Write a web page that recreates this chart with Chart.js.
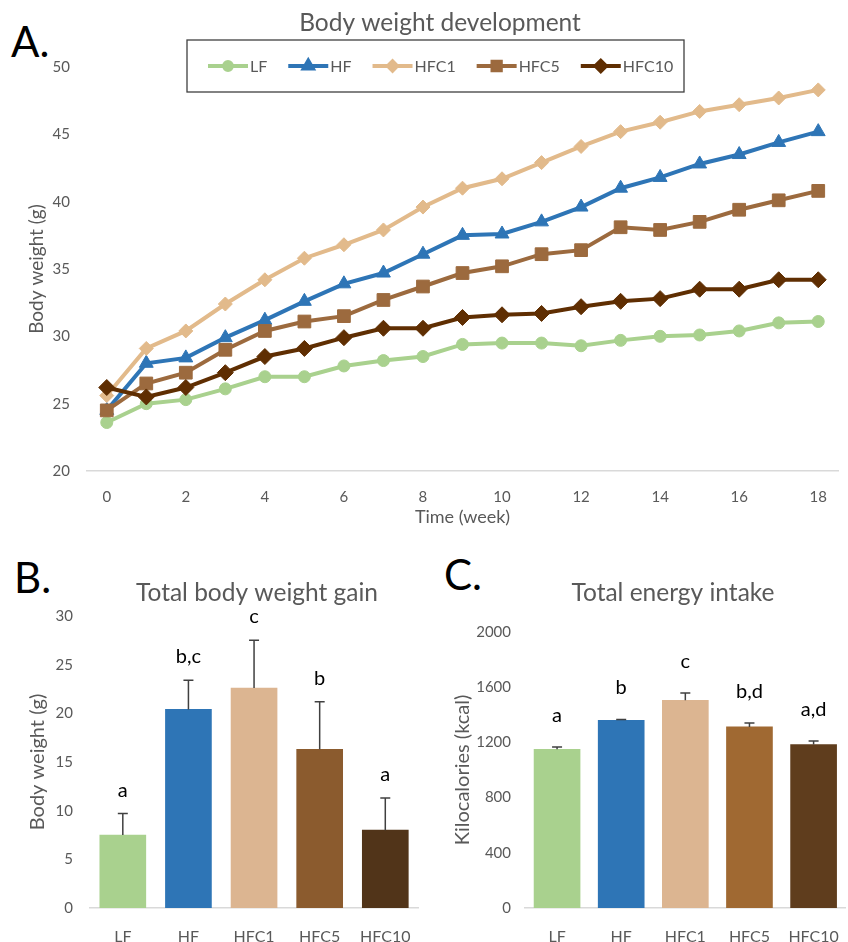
<!DOCTYPE html>
<html>
<head>
<meta charset="utf-8">
<script src="https://cdn.jsdelivr.net/npm/chart.js@4"></script>
<style>
  body { margin: 0; background: #fff; width: 848px; height: 942px; overflow: hidden; position: relative; font-family: Lato, sans-serif; }
  .panel { position: absolute; font-size: 42px; color: #000; line-height: 1; }
  canvas { position: absolute; }
  #wrapC { position: absolute; left: 430px; top: 555px; width: 418px; height: 387px; overflow: hidden; }
</style>
</head>
<body>
<div class="panel" style="left:11px;top:20px;">A.</div>
<div class="panel" style="left:14px;top:556px;">B.</div>
<div class="panel" style="left:444px;top:553px;">C.</div>
<canvas id="chartA" width="848" height="540" style="left:0;top:0;"></canvas>
<canvas id="chartB" width="430" height="387" style="left:0;top:555px;"></canvas>
<div id="wrapC"><canvas id="chartC" width="428" height="387" style="left:0;top:0;"></canvas></div>
<script>
// datos
var weeks = [0, 1, 2, 3, 4, 5, 6, 7, 8, 9, 10, 11, 12, 13, 14, 15, 16, 17, 18];
var pesoLF    = [23.6, 25.0, 25.3, 26.1, 27.0, 27.0, 27.8, 28.2, 28.5, 29.4, 29.5, 29.5, 29.3, 29.7, 30.0, 30.1, 30.4, 31.0, 31.1];
var pesoHF    = [24.5, 28.0, 28.4, 29.9, 31.2, 32.6, 33.9, 34.7, 36.1, 37.5, 37.6, 38.5, 39.6, 41.0, 41.8, 42.8, 43.5, 44.4, 45.2];
var pesoHFC1  = [25.6, 29.1, 30.4, 32.4, 34.2, 35.8, 36.8, 37.9, 39.6, 41.0, 41.7, 42.9, 44.1, 45.2, 45.9, 46.7, 47.2, 47.7, 48.3];
var pesoHFC5  = [24.5, 26.5, 27.3, 29.0, 30.4, 31.1, 31.5, 32.7, 33.7, 34.7, 35.2, 36.1, 36.4, 38.1, 37.9, 38.5, 39.4, 40.1, 40.8];
var pesoHFC10 = [26.2, 25.5, 26.2, 27.3, 28.5, 29.1, 29.9, 30.6, 30.6, 31.4, 31.6, 31.7, 32.2, 32.6, 32.8, 33.5, 33.5, 34.2, 34.2];

var grupos = ['LF', 'HF', 'HFC1', 'HFC5', 'HFC10'];
var gananciaMedia = [7.5, 20.4, 22.6, 16.3, 8.0];
var gananciaError = [2.2, 3.0, 4.9, 4.9, 3.3];
var gananciaLetras = ['a', 'b,c', 'c', 'b', 'a'];
var energiaMedia = [1150, 1360, 1505, 1312, 1185];
var energiaError = [17, 6, 53, 29, 26];
var energiaLetras = ['a', 'b', 'c', 'b,d', 'a,d'];

var gris = '#595959';
var fuente = 'Lato, sans-serif';
var coloresLinea = ['#a9d18e', '#2e75b6', '#e2ba8b', '#9c6a3e', '#5f2e02'];
var coloresB = ['#a9d18e', '#2e75b6', '#dcb591', '#8b5b2e', '#513419'];
var coloresC = ['#a9d18e', '#2e75b6', '#dcb591', '#a06932', '#5f3d1d'];

Chart.defaults.font.family = fuente;
Chart.defaults.color = gris;

// titulo de cada panel
Chart.register({
  id: 'panelTitle',
  afterDraw: function(chart, args, opts) {
    if (!opts.text) return;
    var ctx = chart.ctx;
    ctx.save();
    ctx.font = opts.size + 'px ' + fuente;
    ctx.fillStyle = gris;
    ctx.textAlign = 'center';
    ctx.textBaseline = 'middle';
    ctx.fillText(opts.text, opts.x, opts.y);
    ctx.restore();
  }
});

// barras de error y letras
Chart.register({
  id: 'errorBars',
  afterDatasetsDraw: function(chart, args, opts) {
    if (!opts.errors) return;
    var ctx = chart.ctx;
    var meta = chart.getDatasetMeta(0);
    var y = chart.scales.y;
    var vals = chart.data.datasets[0].data;
    ctx.save();
    for (var i = 0; i < vals.length; i++) {
      var x = meta.data[i].x;
      var y0 = y.getPixelForValue(vals[i]);
      var y1 = y.getPixelForValue(vals[i] + opts.errors[i]);
      ctx.strokeStyle = '#404040';
      ctx.lineWidth = 1.5;
      ctx.beginPath();
      ctx.moveTo(x, y0);
      ctx.lineTo(x, y1);
      ctx.moveTo(x - 5, y1);
      ctx.lineTo(x + 5, y1);
      ctx.stroke();
      ctx.fillStyle = '#000';
      ctx.font = '20px ' + fuente;
      ctx.textAlign = 'center';
      ctx.textBaseline = 'alphabetic';
      ctx.fillText(opts.letters[i], x, y1 - opts.gap);
    }
    ctx.restore();
  }
});

// leyenda con recuadro dentro del grafico
Chart.register({
  id: 'boxLegend',
  afterDraw: function(chart, args, opts) {
    if (!opts.box) return;
    var ctx = chart.ctx;
    var b = opts.box;
    ctx.save();
    ctx.fillStyle = '#fff';
    ctx.fillRect(b[0], b[1], b[2] - b[0], b[3] - b[1]);
    ctx.strokeStyle = '#404040';
    ctx.lineWidth = 1.3;
    ctx.strokeRect(b[0], b[1], b[2] - b[0], b[3] - b[1]);
    ctx.font = '16px ' + fuente;
    ctx.textBaseline = 'middle';
    var x = opts.startX;
    var yy = (b[1] + b[3]) / 2;
    chart.data.datasets.forEach(function(ds) {
      ctx.strokeStyle = ds.borderColor;
      ctx.lineWidth = 4;
      ctx.beginPath();
      ctx.moveTo(x, yy);
      ctx.lineTo(x + 40, yy);
      ctx.stroke();
      ctx.fillStyle = ds.borderColor;
      Chart.helpers.drawPoint(ctx, {pointStyle: ds.pointStyle, radius: ds.pointRadius * 0.65, borderWidth: 1, rotation: 0}, x + 20, yy);
      ctx.fill();
      ctx.fillStyle = gris;
      ctx.fillText(ds.label, x + 42, yy + 1);
      x += 42 + ctx.measureText(ds.label).width + 21;
    });
    ctx.restore();
  }
});

function serie(label, data, i, estilo, radio, orden) {
  return {
    label: label,
    data: data,
    borderColor: coloresLinea[i],
    backgroundColor: coloresLinea[i],
    pointBackgroundColor: coloresLinea[i],
    pointBorderColor: coloresLinea[i],
    pointStyle: estilo,
    pointRadius: radio,
    pointBorderWidth: 1,
    borderWidth: 4,
    tension: 0,
    fill: false,
    order: orden
  };
}

new Chart(document.getElementById('chartA'), {
  type: 'line',
  data: {
    labels: weeks,
    datasets: [
      serie('LF', pesoLF, 0, 'circle', 6, 5),
      serie('HF', pesoHF, 1, 'triangle', 8, 4),
      serie('HFC1', pesoHFC1, 2, 'rectRot', 7, 3),
      serie('HFC5', pesoHFC5, 3, 'rect', 9, 2),
      serie('HFC10', pesoHFC10, 4, 'rectRot', 8, 1)
    ]
  },
  options: {
    responsive: false,
    animation: false,
    layout: { padding: { top: 67, right: 2, left: 0, bottom: 0 } },
    plugins: {
      legend: { display: false },
      tooltip: { enabled: false },
      panelTitle: { text: 'Body weight development', x: 440, y: 23, size: 24.5 },
      boxLegend: { box: [187, 40, 684, 92], startX: 208 }
    },
    scales: {
      x: {
        type: 'category',
        offset: true,
        grid: { display: false, drawTicks: false },
        border: { color: '#d9d9d9', width: 1.5 },
        ticks: {
          autoSkip: false, maxRotation: 0, padding: 17, color: gris, font: { size: 15 },
          callback: function(v, i) { return i % 2 === 0 ? this.getLabelForValue(v) : ''; }
        },
        title: { display: true, text: 'Time (week)', color: gris, font: { family: fuente, size: 18, weight: 'normal' }, padding: { top: 0, bottom: 12 } },
        afterFit: function(s) { s.height = 69; }
      },
      y: {
        min: 20, max: 50,
        grid: { display: false, drawTicks: false },
        border: { display: false },
        ticks: { stepSize: 5, padding: 17, color: gris, font: { size: 15 } },
        title: { display: true, text: 'Body weight (g)', color: gris, font: { family: fuente, size: 19, weight: 'normal' }, padding: { top: 25, bottom: 0 } },
        afterFit: function(s) { s.width = 87; }
      }
    }
  }
});

function barras(id, valores, colores, yMax, paso, tituloY, titulo, tituloX, errores, letras, gap, pad) {
  new Chart(document.getElementById(id), {
    type: 'bar',
    data: {
      labels: grupos,
      datasets: [{ data: valores, backgroundColor: colores, barThickness: 46 }]
    },
    options: {
      responsive: false,
      animation: false,
      layout: { padding: { top: pad.top, right: pad.right, left: 0, bottom: 0 } },
      plugins: {
        legend: { display: false },
        tooltip: { enabled: false },
        panelTitle: { text: titulo, x: tituloX, y: 38, size: 24.5 },
        errorBars: { errors: errores, letters: letras, gap: gap }
      },
      scales: {
        x: {
          grid: { display: false, drawTicks: false },
          border: { color: '#d9d9d9', width: 1.5 },
          ticks: { padding: 19, color: gris, font: { size: 16 } },
          afterFit: function(s) { s.height = 34; }
        },
        y: {
          min: 0, max: yMax,
          grid: { display: false, drawTicks: false },
          border: { display: false },
          ticks: { stepSize: paso, padding: pad.tick, color: gris, font: { size: 15 },
            callback: function(v) { return String(v); } },
          title: { display: true, text: tituloY, color: gris, font: { family: fuente, size: 20, weight: 'normal' }, padding: { top: pad.title, bottom: 0 } },
          afterFit: function(s) { s.width = pad.left; }
        }
      }
    }
  });
}

barras('chartB', gananciaMedia, coloresB, 30, 5, 'Body weight (g)', 'Total body weight gain', 257,
  gananciaError, gananciaLetras, 17, { top: 61, right: 5, left: 90, tick: 17, title: 26 });
barras('chartC', energiaMedia, coloresC, 2000, 400, 'Kilocalories (kcal)', 'Total energy intake', 243,
  energiaError, energiaLetras, 25, { top: 77, right: 2, left: 95, tick: 14, title: 21 });
</script>
</body>
</html>
